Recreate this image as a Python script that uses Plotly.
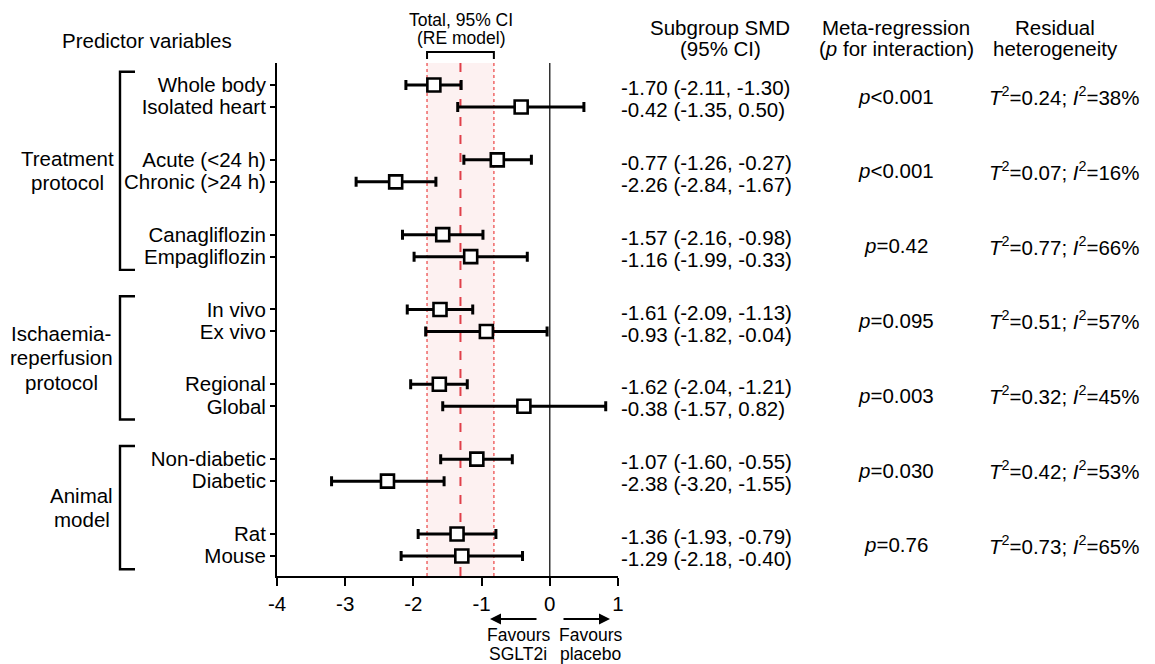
import plotly.graph_objects as go

# ---------------- data ----------------
group_names = [["Treatment", "protocol"],
               ["Ischaemia-", "reperfusion", "protocol"],
               ["Animal", "model"]]
group_pairs = [3, 2, 2]  # number of subgroup pairs in each group

labels = ["Whole body", "Isolated heart",
          "Acute (&lt;24 h)", "Chronic (&gt;24 h)",
          "Canagliflozin", "Empagliflozin",
          "In vivo", "Ex vivo",
          "Regional", "Global",
          "Non-diabetic", "Diabetic",
          "Rat", "Mouse"]
smd = [-1.70, -0.42, -0.77, -2.26, -1.57, -1.16, -1.61, -0.93,
       -1.62, -0.38, -1.07, -2.38, -1.36, -1.29]
ci_low = [-2.11, -1.35, -1.26, -2.84, -2.16, -1.99, -2.09, -1.82,
          -2.04, -1.57, -1.60, -3.20, -1.93, -2.18]
ci_high = [-1.30, 0.50, -0.27, -1.67, -0.98, -0.33, -1.13, -0.04,
           -1.21, 0.82, -0.55, -1.55, -0.79, -0.40]

p_interaction = ["&lt;0.001", "&lt;0.001", "=0.42", "=0.095", "=0.003", "=0.030", "=0.76"]
tau2 = ["0.24", "0.07", "0.77", "0.51", "0.32", "0.42", "0.73"]
i2 = ["38", "16", "66", "57", "45", "53", "65"]

total_smd = -1.31
total_low = -1.80
total_high = -0.82

x_ticks = [-4, -3, -2, -1, 0, 1]

# ---------------- layout helpers ----------------
W, H = 1155, 664
L, R, T, B = 277, 537, 63, 88
PW, PH = W - L - R, H - T - B
FONT = "Liberation Sans, Arial, sans-serif"
FS = 20.5

def px2x(px):
    return (px - L) / PW

def py2y(py):
    return (H - B - py) / PH

PAIR_STEP = 3.4
ypos = []
for k in range(len(p_interaction)):
    ypos += [k * PAIR_STEP, k * PAIR_STEP + 1]
pair_mid = [k * PAIR_STEP + 0.5 for k in range(len(p_interaction))]

fig = go.Figure()

fig.add_trace(go.Scatter(
    x=smd, y=ypos, mode="markers",
    marker=dict(symbol="square", size=13, color="white",
                line=dict(color="black", width=2.6)),
    error_x=dict(type="data", symmetric=False,
                 array=[h - m for h, m in zip(ci_high, smd)],
                 arrayminus=[m - l for m, l in zip(smd, ci_low)],
                 color="black", thickness=3, width=5),
    showlegend=False, hoverinfo="skip", cliponaxis=False))

shapes = []
# overall effect band
shapes.append(dict(type="rect", xref="x", yref="y domain", x0=total_low, x1=total_high,
                   y0=0, y1=1, fillcolor="#fdf1f1", line=dict(width=0), layer="below"))
for xv in (total_low, total_high):
    shapes.append(dict(type="line", xref="x", yref="y domain", x0=xv, x1=xv, y0=0, y1=1,
                       line=dict(color="#f07070", width=1.6, dash="dot"), layer="below"))
shapes.append(dict(type="line", xref="x", yref="y domain", x0=total_smd, x1=total_smd, y0=0, y1=1,
                   line=dict(color="#e0404a", width=2, dash="dash"), layer="below"))
# zero line
shapes.append(dict(type="line", xref="x", yref="y domain", x0=0, x1=0, y0=0, y1=1,
                   line=dict(color="black", width=1.2), layer="below"))
# bracket above total CI
shapes.append(dict(type="path", xref="x", yref="paper",
                   path=f"M {total_low},{py2y(59)} L {total_low},{py2y(52)} L {total_high},{py2y(52)} L {total_high},{py2y(59)}",
                   line=dict(color="black", width=2)))
# group brackets
row = 0
for g, npairs in enumerate(group_pairs):
    first = ypos[row]
    last = ypos[row + 2 * npairs - 1]
    y0, y1 = first - 0.6, last + 0.6
    xa, xb = px2x(120), px2x(135)
    shapes.append(dict(type="path", xref="paper", yref="y",
                       path=f"M {xb},{y0} L {xa},{y0} L {xa},{y1} L {xb},{y1}",
                       line=dict(color="black", width=2.4)))
    row += 2 * npairs

ann = []
def text(x, y, s, xref="paper", yref="paper", xanchor="center", size=FS):
    ann.append(dict(x=x, y=y, xref=xref, yref=yref, text=s, showarrow=False,
                    xanchor=xanchor, yanchor="middle",
                    font=dict(family=FONT, size=size, color="black")))

# group labels
centers = [67, 61, 82]
row = 0
for g, npairs in enumerate(group_pairs):
    mid = (ypos[row] + ypos[row + 2 * npairs - 1]) / 2
    lines = group_names[g]
    n = len(lines)
    for j, s in enumerate(lines):
        text(px2x(centers[g]), mid + (j - (n - 1) / 2) * 1.1, s, yref="y")
    row += 2 * npairs

# column headers
text(px2x(147), py2y(40), "Predictor variables")
text(px2x(461), py2y(20), "Total, 95% CI", size=17.5)
text(px2x(461), py2y(38), "(RE model)", size=17.5)
text(px2x(720), py2y(27), "Subgroup SMD")
text(px2x(720), py2y(49), "(95% CI)")
text(px2x(896), py2y(27), "Meta-regression")
text(px2x(896), py2y(49), "(<i>p</i> for interaction)")
text(px2x(1055), py2y(27), "Residual")
text(px2x(1055), py2y(49), "heterogeneity")

# SMD column
for m, lo, hi, yv in zip(smd, ci_low, ci_high, ypos):
    text(px2x(619), yv + 0.12, f"{m:.2f} ({lo:.2f}, {hi:.2f})", yref="y", xanchor="left")

# p and heterogeneity columns
for k in range(len(p_interaction)):
    text(px2x(896), pair_mid[k], f"<i>p</i>{p_interaction[k]}", yref="y")
    text(px2x(1064), pair_mid[k],
         f"<i>T</i><sup>2</sup>={tau2[k]}; <i>I</i><sup>2</sup>={i2[k]}%", yref="y")

# favours arrows and text
for x_tail, x_head in ((538, 490), (562, 610)):
    ann.append(dict(x=px2x(x_head), y=py2y(619), xref="paper", yref="paper",
                    ax=x_tail - x_head, ay=0, text="", showarrow=True,
                    arrowhead=2, arrowsize=1.1, arrowwidth=2, arrowcolor="black"))
text(px2x(518), py2y(635), "Favours", size=17.5)
text(px2x(518), py2y(654), "SGLT2i", size=17.5)
text(px2x(590), py2y(635), "Favours", size=17.5)
text(px2x(590), py2y(654), "placebo", size=17.5)

fig.update_layout(
    width=W, height=H, margin=dict(l=L, r=R, t=T, b=B, pad=0),
    paper_bgcolor="white", plot_bgcolor="white",
    font=dict(family=FONT, size=FS, color="black"),
    shapes=shapes, annotations=ann, showlegend=False,
    xaxis=dict(range=[-4, 1], tickvals=x_ticks, ticktext=[str(v) for v in x_ticks],
               showgrid=False, zeroline=False, showline=True, linecolor="black",
               linewidth=2, ticks="outside", ticklen=8, tickwidth=2, tickcolor="black",
               tickfont=dict(family=FONT, size=FS), fixedrange=True),
    yaxis=dict(range=[ypos[-1] + 0.91, -1.0], tickvals=ypos, ticktext=labels,
               showgrid=False, zeroline=False, showline=True, linecolor="black",
               linewidth=2, ticks="outside", ticklen=5, tickwidth=1.5, tickcolor="black",
               tickfont=dict(family=FONT, size=FS), fixedrange=True),
)

fig.write_html("out.html", config={"displayModeBar": False},
               post_script="document.body.style.margin='0';")
